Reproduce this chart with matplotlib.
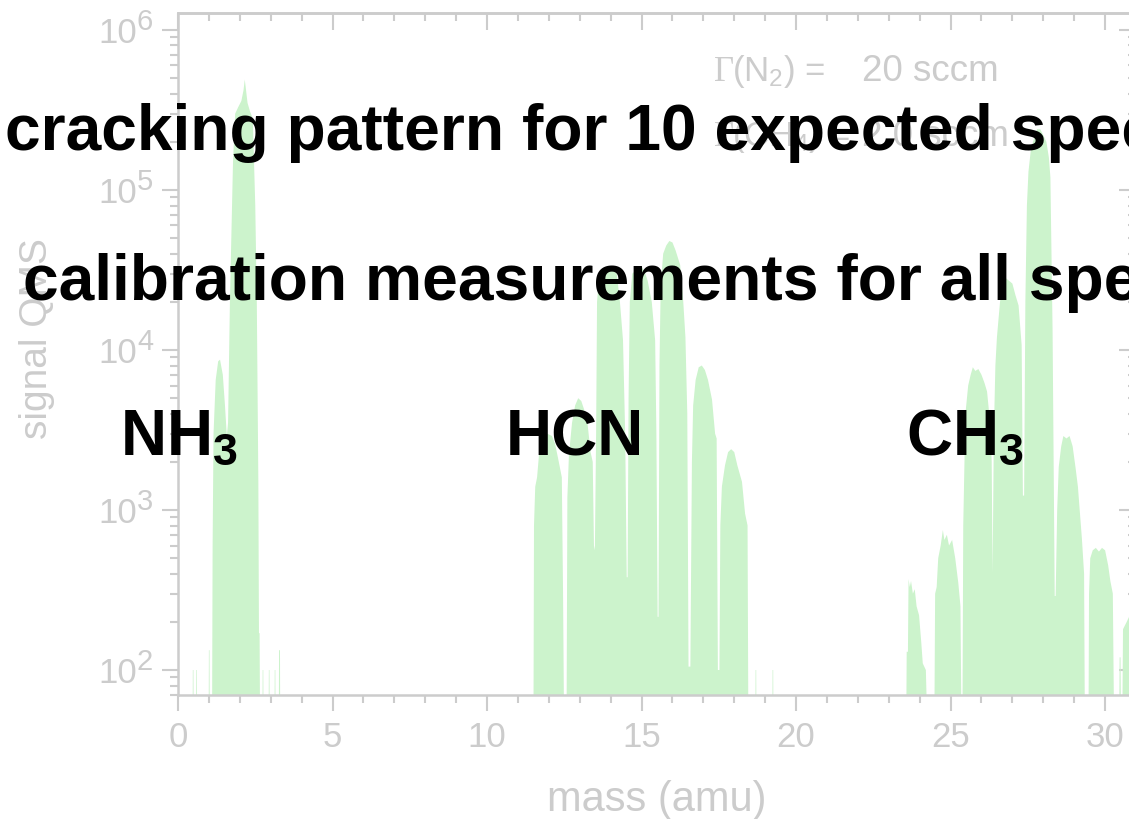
import matplotlib
matplotlib.use("Agg")
import matplotlib.pyplot as plt
import numpy as np
from matplotlib.ticker import MultipleLocator, LogLocator, FuncFormatter, NullFormatter

# ---------------- data ----------------
# NH3 region (mass in amu, signal in QMS counts)
nh3_mass = [0.0, 0.47, 0.48, 0.50, 0.51, 0.58, 0.59, 0.61, 0.62, 0.99, 1.00, 1.02, 1.03,
            1.10, 1.12, 1.15, 1.22, 1.30, 1.36, 1.45, 1.52, 1.58,
            1.62, 1.68, 1.78, 1.85, 1.95, 2.05, 2.12, 2.16, 2.19, 2.25, 2.33, 2.42,
            2.50, 2.55, 2.60, 2.62, 2.64, 2.66,
            2.73, 2.74, 2.76, 2.77, 2.93, 2.94, 2.96, 2.97, 3.12, 3.13, 3.15, 3.16,
            3.26, 3.27, 3.30, 3.31]
nh3_signal = [30, 30, 100, 100, 30, 30, 100, 100, 30, 30, 133, 133, 30,
              30, 600, 3000, 6500, 8500, 8700, 7000, 4500, 2900,
              3500, 20000, 1.5e5, 3.0e5, 3.3e5, 3.6e5, 4.2e5, 4.9e5, 4.4e5, 3.5e5, 3.1e5, 2.8e5,
              8e4, 2e4, 1500, 170, 170, 30,
              30, 100, 100, 30, 30, 100, 100, 30, 30, 100, 100, 30,
              30, 133, 133, 30]

# HCN region
hcn_mass = [11.50, 11.52, 11.56, 11.62, 11.68, 11.80, 11.95, 12.10, 12.20, 12.30, 12.42, 12.46, 12.50,
            12.57, 12.60, 12.65, 12.75, 12.85, 12.95, 13.05, 13.15, 13.25, 13.35, 13.42, 13.46, 13.49,
            13.53, 13.56, 13.62, 13.75, 13.90, 14.05, 14.20, 14.30, 14.40, 14.47, 14.52,
            14.55, 14.58, 14.62, 14.70, 14.85, 15.00, 15.10, 15.20, 15.33, 15.44, 15.48, 15.52,
            15.55, 15.58, 15.62, 15.70, 15.80, 15.90, 16.00, 16.10, 16.25, 16.35, 16.42, 16.48, 16.52,
            16.58, 16.63, 16.67, 16.75, 16.85, 16.95, 17.05, 17.15, 17.28, 17.38, 17.43, 17.47,
            17.52, 17.55, 17.60, 17.70, 17.80, 17.90, 18.00, 18.10, 18.25, 18.35, 18.43, 18.46,
            18.68, 18.69, 18.71, 18.72, 19.23, 19.24, 19.26, 19.27]
hcn_signal = [30, 800, 1400, 1600, 2200, 2700, 3000, 2900, 2600, 2100, 1600, 300, 30,
              30, 1200, 2200, 3500, 4500, 5000, 4800, 4200, 3500, 2300, 2000, 600, 560,
              3000, 20000, 28000, 31000, 33000, 32000, 30000, 20000, 11500, 3000, 380,
              380, 5000, 20000, 30000, 32000, 33000, 31000, 27000, 20000, 11500, 3000, 215,
              215, 8000, 25000, 40000, 45000, 48000, 47000, 42000, 34000, 20000, 12000, 4000, 105,
              105, 2000, 4500, 6500, 7800, 8000, 7500, 6500, 4900, 3000, 2800, 100,
              100, 800, 1400, 1900, 2300, 2400, 2300, 1900, 1500, 950, 800, 30,
              30, 100, 100, 30, 30, 100, 100, 30]

# CH3 region
ch3_mass = [23.56, 23.58, 23.62, 23.64, 23.68, 23.72, 23.78, 23.84, 23.90, 23.98, 24.05, 24.10, 24.20, 24.27,
            24.47, 24.50, 24.55, 24.60, 24.68, 24.75, 24.80, 24.88, 24.95, 25.05, 25.15, 25.25, 25.32, 25.36,
            25.38, 25.41, 25.48, 25.57, 25.65, 25.72, 25.80, 25.90, 26.00, 26.10, 26.18, 26.28, 26.33, 26.36,
            26.40, 26.45, 26.50, 26.60, 26.70, 26.80, 26.90, 27.00, 27.10, 27.20, 27.30, 27.34,
            27.38, 27.42, 27.47, 27.52, 27.60, 27.70, 27.80, 27.90, 28.00, 28.10, 28.18, 28.23, 28.30, 28.37,
            28.40, 28.45, 28.50, 28.58, 28.65, 28.75, 28.85, 28.95, 29.05, 29.12, 29.25, 29.32, 29.35,
            29.46, 29.48, 29.52, 29.60, 29.70, 29.80, 29.90, 30.00, 30.10, 30.17, 30.25, 30.30,
            30.45, 30.47, 30.50, 30.52, 30.55, 30.58, 30.70, 30.80, 30.90, 31.00]
ch3_signal = [30, 130, 130, 370, 330, 360, 300, 320, 250, 220, 150, 110, 100, 30,
              30, 300, 330, 500, 600, 750, 650, 700, 600, 650, 500, 350, 250, 30,
              30, 800, 4000, 6000, 7000, 7800, 7400, 7600, 7000, 6200, 5500, 3500, 2000, 400,
              3000, 8000, 12000, 20000, 26000, 28000, 27000, 26000, 22000, 19000, 10700, 1230,
              1230, 20000, 80000, 1.3e5, 1.8e5, 2.1e5, 2.4e5, 2.4e5, 2.2e5, 2.0e5, 1.6e5, 1.2e5, 13500, 290,
              290, 1000, 1860, 2500, 2900, 2800, 2900, 2500, 1800, 1400, 660, 400, 30,
              30, 300, 500, 560, 580, 550, 580, 560, 450, 360, 300, 30,
              30, 120, 120, 30, 30, 180, 200, 220, 200, 30]

x_ticks = [0, 5, 10, 15, 20, 25, 30]
y_decades = [2, 3, 4, 5, 6]

title_lines = ["cracking pattern for 10 expected species",
               "calibration measurements for all species"]
species = ["NH$_3$", "HCN", "CH$_3$"]
flow_gas = ["(N$_2$) =", "(CH$_4$) ="]
flow_values = ["20 sccm", "2.0 sccm"]

# ---------------- style ----------------
plt.rcParams['font.family'] = ['Liberation Sans', 'DejaVu Sans']
plt.rcParams['mathtext.fontset'] = 'custom'
plt.rcParams['mathtext.rm'] = 'Liberation Sans'
plt.rcParams['mathtext.it'] = 'Liberation Sans:italic'
plt.rcParams['mathtext.bf'] = 'Liberation Sans:bold'
plt.rcParams['mathtext.default'] = 'regular'

GRAY = '#cccccc'
FILL = '#ccf3cc'
W, H = 1129, 819
PT = 0.72  # points per pixel at 100 dpi

mass = np.array(nh3_mass + hcn_mass + ch3_mass)
signal = np.array(nh3_signal + hcn_signal + ch3_signal, dtype=float)

fig = plt.figure(figsize=(W / 100, H / 100), dpi=100)
ax = fig.add_axes([178 / W, (H - 695) / H, (1136 - 178) / W, (695 - 13) / H])
ax.set_yscale('log')
ax.fill_between(mass, signal, 1, color=FILL, lw=0)
ax.set_xlim(0, 31)
ax.set_ylim(69.8, 1.277e6)

for s in ax.spines.values():
    s.set_color(GRAY)
    s.set_linewidth(1.8)

ax.xaxis.set_major_locator(plt.FixedLocator(x_ticks))
ax.xaxis.set_minor_locator(MultipleLocator(1))
ax.yaxis.set_major_locator(plt.FixedLocator([10.0 ** d for d in y_decades]))
ax.yaxis.set_minor_locator(LogLocator(base=10, subs=np.arange(2, 10)))
ax.yaxis.set_major_formatter(FuncFormatter(lambda v, p: '10'))
ax.yaxis.set_minor_formatter(NullFormatter())

ax.tick_params(which='both', direction='out', color=GRAY, width=1.5,
               labelcolor=GRAY, labelsize=25, top=False, right=False)
ax.tick_params(which='major', length=11.5)
ax.tick_params(which='minor', length=6)
ax.tick_params(axis='x', pad=7)
ax.tick_params(axis='y', pad=18)

# exponents of the y tick labels (slightly larger than mathtext superscripts)
for d in y_decades:
    ax.annotate('%d' % d, xy=(0, 10.0 ** d), xycoords=('axes fraction', 'data'),
                xytext=(-41 * PT, 0), textcoords='offset points',
                ha='left', va='baseline', fontsize=21, color=GRAY, annotation_clip=False)

sec_top = ax.secondary_xaxis('top')
sec_top.xaxis.set_major_locator(plt.FixedLocator(x_ticks))
sec_top.xaxis.set_minor_locator(MultipleLocator(1))
sec_top.tick_params(which='both', direction='in', color=GRAY, width=1.5, labeltop=False)
sec_top.tick_params(which='major', length=12)
sec_top.tick_params(which='minor', length=6)
sec_top.spines['top'].set_color(GRAY)
sec_top.spines['top'].set_linewidth(1.8)

sec_right = ax.secondary_yaxis('right')
sec_right.yaxis.set_major_locator(plt.FixedLocator([10.0 ** d for d in y_decades]))
sec_right.yaxis.set_minor_locator(LogLocator(base=10, subs=np.arange(2, 10)))
sec_right.tick_params(which='both', direction='in', color=GRAY, width=1.5, labelright=False)
sec_right.tick_params(which='major', length=12)
sec_right.tick_params(which='minor', length=6)
sec_right.spines['right'].set_color(GRAY)

ax.set_xlabel('mass (amu)', fontsize=30, color=GRAY)
ax.set_ylabel('signal QMS', fontsize=28, color=GRAY)
ax.xaxis.set_label_coords(0.5, -0.125)
ax.yaxis.set_label_coords(-0.128, 0.522)

# flow annotations (gray)
for base_y, gas, val in zip([81, 146], flow_gas, flow_values):
    fig.text(714 / W, 1 - base_y / H, 'Γ', family='Liberation Serif', fontsize=25, color=GRAY)
    fig.text(732 / W, 1 - base_y / H, gas, fontsize=25, color=GRAY)
    fig.text(862 / W, 1 - base_y / H, val, fontsize=26.5, color=GRAY)

# overlay black texts
fig.text(5 / W, 1 - 150 / H, title_lines[0], fontsize=46.2, fontweight='bold', color='black')
fig.text(23 / W, 1 - 300 / H, title_lines[1], fontsize=46.2, fontweight='bold', color='black')
fig.text(120 / W, 1 - 455 / H, species[0], fontsize=46, fontweight='bold', color='black')
fig.text(506 / W, 1 - 455 / H, species[1], fontsize=46, fontweight='bold', color='black')
fig.text(906 / W, 1 - 455 / H, species[2], fontsize=46, fontweight='bold', color='black')

fig.savefig('out.png', dpi=100)
